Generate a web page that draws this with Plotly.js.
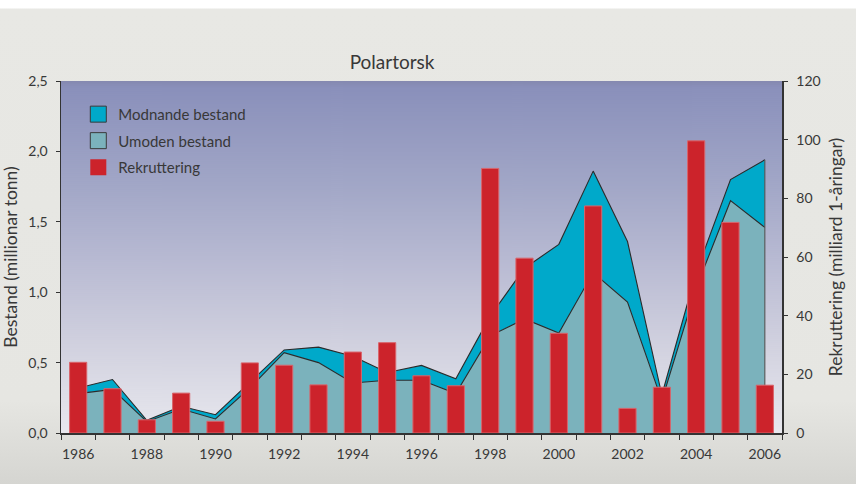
<!DOCTYPE html>
<html><head><meta charset="utf-8">
<script src="https://cdn.plot.ly/plotly-3.0.1.min.js"></script>
<style>
html,body{margin:0;padding:0;width:856px;height:484px;overflow:hidden;}
body{background:linear-gradient(to bottom,#ffffff 0px,#ffffff 8px,#e8e8e4 9px,#e6e6e2 400px,#d5d5d1 484px);}
#chart{width:856px;height:484px;}
</style></head><body><div id="chart"></div>
<script>
// ---- data ----
const years = [1986,1987,1988,1989,1990,1991,1992,1993,1994,1995,1996,1997,1998,1999,2000,2001,2002,2003,2004,2005,2006];
// Umoden bestand (million tonn)
const umoden = [0.28,0.31,0.08,0.17,0.10,0.32,0.57,0.50,0.355,0.375,0.375,0.28,0.69,0.81,0.71,1.14,0.93,0.23,1.03,1.65,1.46];
// Modnande bestand (million tonn), stacked on top of umoden
const modnande = [0.04,0.07,0.01,0.02,0.03,0.04,0.02,0.11,0.19,0.055,0.105,0.105,0.14,0.36,0.63,0.72,0.43,0.04,0.11,0.15,0.48];
// Rekruttering (milliard 1-åringar)
const rekruttering = [24.1,15.1,4.5,13.6,4.0,23.9,23.1,16.4,27.6,30.8,19.5,16.1,90.2,59.6,34.0,77.4,8.4,15.6,99.6,71.8,16.3];
const xTickVals = [1986,1988,1990,1992,1994,1996,1998,2000,2002,2004,2006];
const names = {mod:'Modnande bestand', umo:'Umoden bestand', rek:'Rekruttering'};

const C_MOD = '#00a9ca', C_UMO = '#7bb2bc', C_REK = '#cc232b', C_LINE = '#2b2b2b', C_TXT = '#383838';
const FONT = 'Lato, "Open Sans", sans-serif';

// plot-area gradient
const cv = document.createElement('canvas'); cv.width = 4; cv.height = 352;
const cx = cv.getContext('2d');
const g = cx.createLinearGradient(0,0,0,352);
g.addColorStop(0,'#8589b0'); g.addColorStop(0.02,'#8a90bb'); g.addColorStop(0.3,'#a2a7c7');
g.addColorStop(0.5,'#b7b9d2'); g.addColorStop(0.75,'#d1d1df'); g.addColorStop(1,'#e8e8ee');
cx.fillStyle = g; cx.fillRect(0,0,4,352);
const bgURL = cv.toDataURL();

const lastX = years[years.length-1];
const lastTotal = umoden[umoden.length-1] + modnande[modnande.length-1];

const traces = [
  {x: years, y: umoden, type:'scatter', mode:'lines', stackgroup:'s', name:names.umo,
   line:{color:C_LINE, width:1.1}, fillcolor:C_UMO, showlegend:false, hoverinfo:'skip'},
  {x: years, y: modnande, type:'scatter', mode:'lines', stackgroup:'s', name:names.mod,
   line:{color:C_LINE, width:1.1}, fillcolor:C_MOD, showlegend:false, hoverinfo:'skip'},
  {x:[lastX,lastX], y:[0,lastTotal], type:'scatter', mode:'lines', line:{color:'#555', width:1.1}, showlegend:false, hoverinfo:'skip'},
  {x: years, y: rekruttering, type:'bar', yaxis:'y2', name:names.rek, width:0.5,
   marker:{color:C_REK, line:{color:'#d9646b', width:1}}, showlegend:false},
  // legend-only entries
  {x:[null], y:[null], type:'scatter', mode:'markers', name:names.mod, legendgroup:'a',
   marker:{symbol:'square', size:16, color:C_MOD, line:{color:'#3a3a3a', width:1}}},
  {x:[null], y:[null], type:'scatter', mode:'markers', name:names.umo, legendgroup:'b',
   marker:{symbol:'square', size:16, color:C_UMO, line:{color:'#3a3a3a', width:1}}},
  {x:[null], y:[null], type:'scatter', mode:'markers', name:names.rek, legendgroup:'c',
   marker:{symbol:'square', size:16, color:C_REK, line:{color:C_REK, width:0}}}
];

const layout = {
  width:856, height:484,
  margin:{l:61, r:74, t:81, b:51, pad:0},
  paper_bgcolor:'rgba(0,0,0,0)', plot_bgcolor:'rgba(0,0,0,0)',
  separators:', ',
  font:{family:FONT, color:C_TXT, size:14},
  title:{text:'Polartorsk', font:{family:FONT, size:19, color:C_TXT}, x:0.458, xanchor:'center', y:1, yref:'paper', yanchor:'bottom', pad:{b:12}},
  showlegend:true,
  legend:{x:0.024, y:0.952, xanchor:'left', yanchor:'top', bgcolor:'rgba(0,0,0,0)', font:{family:FONT, size:15, color:C_TXT},
    traceorder:'grouped', tracegroupgap:4},
  xaxis:{type:'linear', range:[1985.5,2006.5], tickmode:'array', tickvals:xTickVals, ticktext:xTickVals.map(String),
    ticks:'outside', ticklen:5, tickcolor:'rgba(0,0,0,0)', showgrid:false, zeroline:false,
    showline:true, linecolor:'#333', linewidth:1.5, ticklabelstandoff:3,
    minor:{tick0:1985.5, dtick:1, ticks:'outside', ticklen:5, tickwidth:1, tickcolor:'#333', showgrid:false},
    tickfont:{size:14, color:C_TXT}},
  yaxis:{range:[0,2.5], dtick:0.5, tickformat:'.1f', ticks:'outside', ticklen:4, tickcolor:'#333',
    showgrid:false, zeroline:false, showline:true, linecolor:'#333', linewidth:1.5, ticklabelstandoff:5,
    tickfont:{size:14, color:C_TXT},
    title:{text:'Bestand (millionar tonn)', font:{size:17.5, color:C_TXT}, standoff:8}},
  yaxis2:{range:[0,120], dtick:20, overlaying:'y', side:'right', ticks:'outside', ticklen:4, tickcolor:'#333',
    showgrid:false, zeroline:false, showline:true, linecolor:'#333', linewidth:1.5, ticklabelstandoff:6,
    tickfont:{size:14, color:C_TXT},
    title:{text:'Rekruttering (milliard 1-åringar)', font:{size:17.5, color:C_TXT}, standoff:10}},
  images:[{source:bgURL, xref:'paper', yref:'paper', x:0, y:1, sizex:1, sizey:1, sizing:'stretch', xanchor:'left', yanchor:'top', layer:'below'}]
};

Plotly.newPlot('chart', traces, layout, {displayModeBar:false, staticPlot:true});
</script>
</body></html>
